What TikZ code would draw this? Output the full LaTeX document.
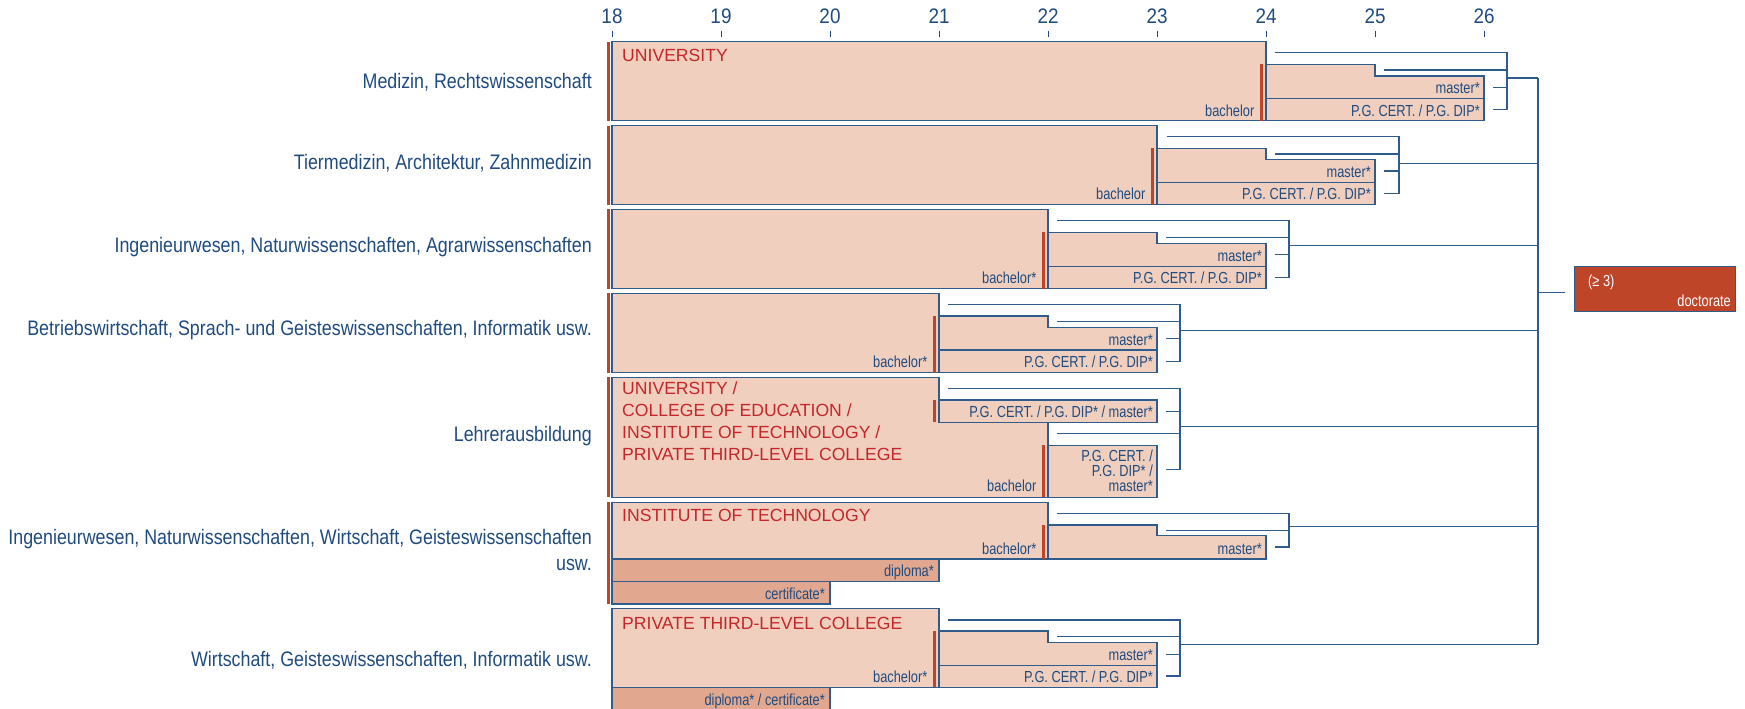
\documentclass[tikz,border=0pt]{standalone}
\usepackage{fontspec}
\setmainfont{Liberation Sans}
\newfontfamily\fieldfont[FakeStretch=0.85]{Liberation Sans}
\newfontfamily\agefont[FakeStretch=0.9]{Liberation Sans}
\newfontfamily\boxfont[FakeStretch=0.8]{Liberation Sans}
\usepackage{xcolor}
\usepackage{tikz}

\definecolor{peach}{HTML}{F0CFBF}
\definecolor{peachdark}{HTML}{E2A88F}
\definecolor{barred}{HTML}{C0442A}
\definecolor{instred}{HTML}{C4262A}
\definecolor{navy}{HTML}{1F4B7F}
\definecolor{lineblue}{HTML}{2F5B8D}
\definecolor{docred}{HTML}{BF4529}

% bracket of one row: name, x of bracket, y of join, start points
\newcommand{\rowjoin}[4]{%
  \foreach \sx/\sy in {#4}
    \draw[brk] (\sx,\sy) -| (#2,#3);
  \coordinate (#1) at (#2,#3);
  \draw[brk] (#1) -- (#1 -| spine);
}

\begin{document}
\begin{tikzpicture}[x=1pt, y=-1pt,
  box/.style={draw=lineblue, fill=peach, line width=1.1pt},
  lowbox/.style={draw=lineblue, fill=peachdark, line width=1.1pt},
  split/.style={lineblue, line width=1.1pt},
  bar/.style={barred, line width=3.6pt},
  brk/.style={lineblue, line width=1.3pt},
  field/.style={font=\fieldfont\fontsize{21}{25.7}\selectfont, text=navy, inner sep=0pt, align=right, anchor=base east},
  deg/.style={font=\boxfont\fontsize{16}{15.3}\selectfont, text=navy, inner sep=0pt, anchor=base east},
  inst/.style={font=\fontsize{17.6}{22}\selectfont, text=instred, inner sep=0pt, anchor=base west, align=left},
  age/.style={font=\agefont\fontsize{21}{24}\selectfont, text=navy, inner sep=0pt, anchor=base}]

\useasboundingbox (0,0) rectangle (1745,709);
\coordinate (spine) at (1538,0);

% age axis
\foreach \a [count=\i from 0] in {18,...,26} {
  \draw[navy, line width=0.8pt] ({612+109*\i},31) -- ({612+109*\i},37);
  \node[age] (t\a) at ({612+109*\i},24) {\a};
}

% Medizin, Rechtswissenschaft
\draw[box] (612,41.7) rectangle (1266,120.7);
\draw[box] (1266,64.3) -- (1375,64.3) -- (1375,76) -- (1484,76) -- (1484,120.7) -- (1266,120.7) -- cycle;
\draw[split] (1266,98.7) -- (1484,98.7);
\draw[bar] (608.5,41.7) -- (608.5,120.7);
\draw[bar] (1261.5,64.3) -- (1261.5,120.7);
\node[inst] (u1) at (622,62) {UNIVERSITY};
\node[deg] (b1) at (1254.5,116) {bachelor};
\node[deg] (m1) at (1480,93.3) {master*};
\node[deg] (p1) at (1480,116) {P.G. CERT. / P.G. DIP*};
\node[field] (f1) at (592,88.3) {Medizin, Rechtswissenschaft};
\rowjoin{j1}{1507}{78}{1275/52.7, 1384/70, 1493/87.3, 1493/109.3}

% Tiermedizin, Architektur, Zahnmedizin
\draw[box] (612,125.7) rectangle (1157,204.7);
\draw[box] (1157,148.3) -- (1266,148.3) -- (1266,159.3) -- (1375,159.3) -- (1375,204.7) -- (1157,204.7) -- cycle;
\draw[split] (1157,182.3) -- (1375,182.3);
\draw[bar] (608.5,125.7) -- (608.5,204.7);
\draw[bar] (1152.5,148.3) -- (1152.5,204.7);
\node[deg] (b2) at (1145.5,199.5) {bachelor};
\node[deg] (m2) at (1371,177.3) {master*};
\node[deg] (p2) at (1371,199.5) {P.G. CERT. / P.G. DIP*};
\node[field] (f2) at (592,169.3) {Tiermedizin, Architektur, Zahnmedizin};
\rowjoin{j2}{1399}{163.3}{1167/136.7, 1275/154, 1384/171, 1384/193.3}

% Ingenieurwesen, Naturwissenschaften, Agrarwissenschaften
\draw[box] (612,209.3) rectangle (1048,288.7);
\draw[box] (1048,232.3) -- (1157,232.3) -- (1157,243.3) -- (1266,243.3) -- (1266,288.7) -- (1048,288.7) -- cycle;
\draw[split] (1048,266.7) -- (1266,266.7);
\draw[bar] (608.5,209.3) -- (608.5,288.7);
\draw[bar] (1043.5,232.3) -- (1043.5,288.7);
\node[deg] (b3) at (1036.5,283.7) {bachelor*};
\node[deg] (m3) at (1262,261.7) {master*};
\node[deg] (p3) at (1262,283.7) {P.G. CERT. / P.G. DIP*};
\node[field] (f3) at (592,252.3) {Ingenieurwesen, Naturwissenschaften, Agrarwissenschaften};
\rowjoin{j3}{1289}{245.7}{1057/220.7, 1166/237.7, 1275/254.3, 1275/277.3}

% Betriebswirtschaft ...
\draw[box] (612,293.3) rectangle (939,372.7);
\draw[box] (939,316) -- (1048,316) -- (1048,327.3) -- (1157,327.3) -- (1157,372.7) -- (939,372.7) -- cycle;
\draw[split] (939,350) -- (1157,350);
\draw[bar] (608.5,293.3) -- (608.5,372.7);
\draw[bar] (934.5,316) -- (934.5,372.7);
\node[deg] (b4) at (927.5,367.7) {bachelor*};
\node[deg] (m4) at (1153,345) {master*};
\node[deg] (p4) at (1153,367.7) {P.G. CERT. / P.G. DIP*};
\node[field] (f4) at (592,335) {Betriebswirtschaft, Sprach- und Geisteswissenschaften, Informatik usw.};
\rowjoin{j4}{1180}{330.7}{948/304.7, 1057/321.7, 1166/338.3, 1166/361.3}

% Lehrerausbildung
\draw[box] (612,377.3) -- (939,377.3) -- (939,422.3) -- (1048,422.3) -- (1048,497.3) -- (612,497.3) -- cycle;
\draw[box] (939,400) rectangle (1157,422.3);
\draw[box] (1048,445.3) rectangle (1157,497.3);
\draw[bar] (608.5,377.3) -- (608.5,497.3);
\draw[bar] (934.5,400) -- (934.5,422.3);
\draw[bar] (1043.5,445.3) -- (1043.5,497.3);
\node[inst, anchor=south west] (u5) at (622,461.3) {UNIVERSITY /\\COLLEGE OF EDUCATION /\\INSTITUTE OF TECHNOLOGY /\\PRIVATE THIRD-LEVEL COLLEGE};
\node[deg] (b5) at (1036.5,491.7) {bachelor};
\node[deg] (p5) at (1153,417.3) {P.G. CERT. / P.G. DIP* / master*};
\node[deg, align=right, anchor=south east] (q5) at (1153,492) {P.G. CERT. /\\P.G. DIP* /\\master*};
\node[field] (f5) at (592,441.7) {Lehrerausbildung};
\rowjoin{j5}{1180}{426.7}{948/388.3, 1166/411.7, 1057/433.3, 1166/469.3}

% Ingenieurwesen, ... Geisteswissenschaften usw.
\draw[box] (612,502.3) rectangle (1048,559);
\draw[box] (1048,525) -- (1157,525) -- (1157,535.7) -- (1266,535.7) -- (1266,559) -- (1048,559) -- cycle;
\draw[lowbox] (612,559) rectangle (939,581.7);
\draw[lowbox] (612,581.7) rectangle (830,604);
\draw[bar] (608.5,502.3) -- (608.5,604);
\draw[bar] (1043.5,525) -- (1043.5,559);
\node[inst] (u6) at (622,521.7) {INSTITUTE OF TECHNOLOGY};
\node[deg] (b6) at (1036.5,554) {bachelor*};
\node[deg] (m6) at (1262,554) {master*};
\node[deg] (d6) at (934,576.7) {diploma*};
\node[deg] (c6) at (825,599.3) {certificate*};
\node[field, anchor=south east] (f6) at (592,570.7) {Ingenieurwesen, Naturwissenschaften, Wirtschaft, Geisteswissenschaften\\usw.};
\rowjoin{j6}{1289}{526.7}{1057/513.3, 1166/530.3, 1275/547}

% Wirtschaft, Geisteswissenschaften, Informatik usw.
\draw[box] (612,608.3) rectangle (939,687.3);
\draw[box] (939,631) -- (1048,631) -- (1048,642.3) -- (1157,642.3) -- (1157,687.3) -- (939,687.3) -- cycle;
\draw[split] (939,665.7) -- (1157,665.7);
\draw[lowbox] (612,687.3) rectangle (830,712);
\draw[bar] (934.5,631) -- (934.5,687.3);
\node[inst] (u7) at (622,629.3) {PRIVATE THIRD-LEVEL COLLEGE};
\node[deg] (b7) at (927.5,682.7) {bachelor*};
\node[deg] (m7) at (1153,660) {master*};
\node[deg] (p7) at (1153,682.7) {P.G. CERT. / P.G. DIP*};
\node[deg] (d7) at (825,705.3) {diploma* / certificate*};
\node[field] (f7) at (592,666.7) {Wirtschaft, Geisteswissenschaften, Informatik usw.};
\rowjoin{j7}{1180}{644.3}{948/620, 1057/636.7, 1166/654.3, 1166/676}

% doctorate
\draw[brk, line width=1.5pt] (j1 -| spine) -- (j7 -| spine);
\node[draw=lineblue, fill=docred, line width=1pt, minimum width=161pt, minimum height=45pt, inner sep=0pt] (doc) at (1654.5,288.5) {};
\node[deg, text=white, anchor=base west] (dmin) at (1588,286.7) {(≥ 3)};
\node[deg, text=white] (dlab) at (1731,306) {doctorate};
\draw[brk] ([yshift=-4pt]doc.west -| spine) -- ([xshift=-9pt,yshift=-4pt]doc.west);
\end{tikzpicture}
\end{document}
